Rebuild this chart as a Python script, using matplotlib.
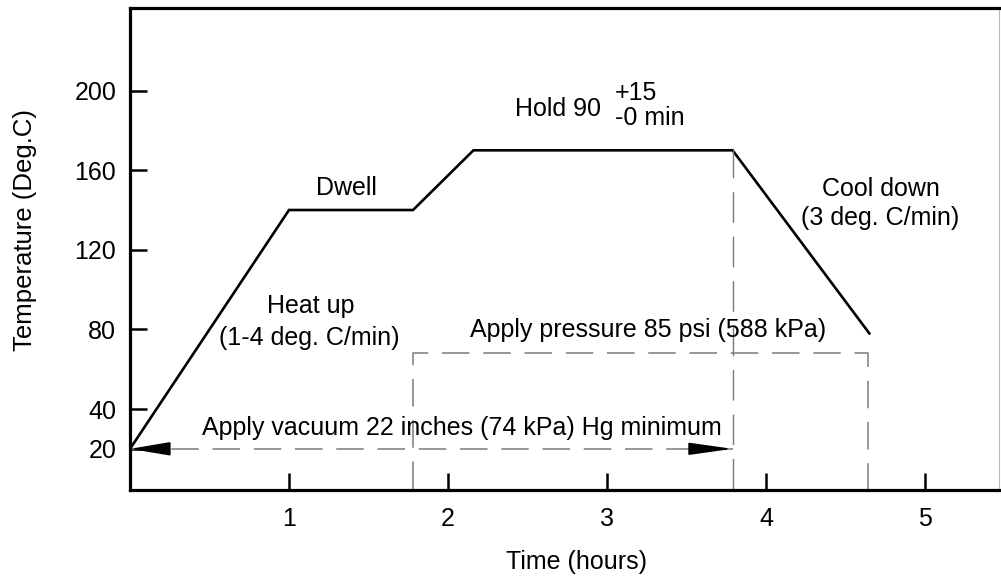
import matplotlib.pyplot as plt

plt.rcParams['font.family'] = ['Liberation Sans', 'DejaVu Sans']

# cure cycle: time (hours) vs temperature (deg C)
time_h = [0.0, 1.0, 1.78, 2.16, 3.79, 4.65]
temp_c = [20, 140, 140, 170, 170, 78]

# vacuum / pressure windows
vac_start, vac_end, vac_level = 0.0, 3.79, 20
pres_start, pres_end, pres_level = 1.78, 4.64, 68

xticks = [1, 2, 3, 4, 5]
yticks = [20, 40, 80, 120, 160, 200]

fig = plt.figure(figsize=(10.01, 5.81), dpi=100)
ax = fig.add_axes([0.1299, 0.1566, 0.868, 0.8296])

ax.plot(time_h, temp_c, color='black', lw=1.9, solid_joinstyle='miter')

dash = dict(color='#7a7a7a', lw=1.1, dashes=(18, 9))
# vacuum line with arrows at both ends
ax.plot([vac_start, vac_end], [vac_level, vac_level], **dash)
ax.annotate('', xy=(vac_start, vac_level), xytext=(vac_start + 0.24, vac_level),
            arrowprops=dict(arrowstyle='-|>,head_length=2.5,head_width=0.42',
                            color='black', lw=1.2, shrinkA=0, shrinkB=0,
                            mutation_scale=10))
ax.annotate('', xy=(vac_end, vac_level), xytext=(vac_end - 0.26, vac_level),
            arrowprops=dict(arrowstyle='-|>,head_length=2.7,head_width=0.38',
                            color='black', lw=1.2, shrinkA=0, shrinkB=0,
                            mutation_scale=10))
# end of hold marker
ax.plot([time_h[4], time_h[4]], [0, temp_c[4]], color='#7a7a7a', lw=1.0, dashes=(22, 10))
# pressure window
ax.plot([pres_start, pres_start, pres_end, pres_end],
        [0, pres_level, pres_level, 0], **dash)

fs = 18
ax.text(1.36, 151, 'Dwell', fontsize=fs, ha='center', va='center')
ax.text(2.69, 191, 'Hold 90', fontsize=fs, ha='center', va='center')
ax.text(3.05, 199, '+15', fontsize=fs, ha='left', va='center')
ax.text(3.05, 186, '-0 min', fontsize=fs, ha='left', va='center')
ax.text(4.72, 150.5, 'Cool down', fontsize=fs, ha='center', va='center')
ax.text(4.72, 136, '(3 deg. C/min)', fontsize=fs, ha='center', va='center')
ax.text(1.135, 92, 'Heat up', fontsize=fs, ha='center', va='center')
ax.text(1.125, 75.5, '(1-4 deg. C/min)', fontsize=fs, ha='center', va='center')
ax.text(3.26, 79.5, 'Apply pressure 85 psi (588 kPa)', fontsize=fs, ha='center', va='center')
ax.text(2.09, 30.5, 'Apply vacuum 22 inches (74 kPa) Hg minimum', fontsize=fs,
        ha='center', va='center')

ax.set_xlim(0, 5.465)
ax.set_ylim(-0.7, 241.5)
ax.set_xticks(xticks)
ax.set_yticks(yticks)
ax.tick_params(direction='in', length=12.5, width=1.8, labelsize=fs, pad=10)
ax.tick_params(axis='x', pad=12)

for side in ['left', 'bottom', 'top']:
    ax.spines[side].set_linewidth(2.3)
ax.spines['right'].set_linewidth(0.8)
ax.spines['right'].set_color('#bbbbbb')

fig.text(577 / 1001, 1 - 562 / 581, 'Time (hours)', fontsize=fs, ha='center', va='center')
fig.text(25 / 1001, 1 - 230 / 581, 'Temperature (Deg.C)', fontsize=18.5,
         ha='center', va='center', rotation=90)

fig.savefig('out.png', dpi=100)
